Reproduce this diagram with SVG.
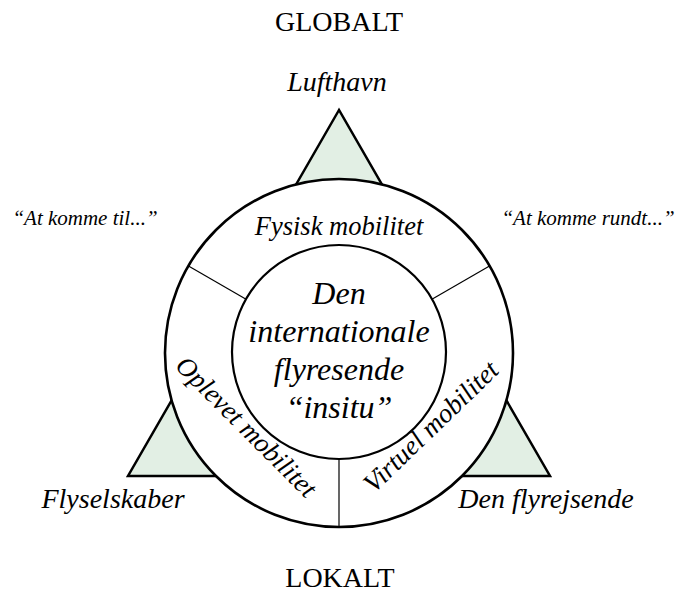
<svg xmlns="http://www.w3.org/2000/svg" width="676" height="599" viewBox="0 0 676 599">
<style>
.t{font-family:"Liberation Serif","Times New Roman",serif;fill:#000;text-anchor:middle}
.i{font-style:italic}
.div{stroke:#000;stroke-width:1.2;fill:none}
</style>
<rect width="676" height="599" fill="#fff"/>
<g id="triangle">
<polygon points="339,110 128,476 550,476" fill="#e2efe4" stroke="#000" stroke-width="2.5" stroke-linejoin="miter"/>
</g>
<g id="outer-ring">
<circle cx="339" cy="353" r="174" fill="#fff" stroke="#000" stroke-width="2.6"/>
</g>
<g id="connectors">
<line class="div" x1="246.5" y1="299.5" x2="188.5" y2="266"/>
<line class="div" x1="431.5" y1="299.5" x2="489.5" y2="266"/>
<line class="div" x1="339" y1="459" x2="339" y2="527"/>
</g>
<g id="inner-circle">
<circle cx="339" cy="352" r="107" fill="#fff" stroke="#000" stroke-width="2.2"/>
<text class="t i" font-size="32"><tspan x="339" y="304">Den</tspan><tspan x="339" y="342">internationale</tspan><tspan x="339" y="380">flyresende</tspan><tspan x="339" y="418">“insitu”</tspan></text>
</g>
<g id="fysisk">
<text class="t i" x="339" y="235" font-size="26.5">Fysisk mobilitet</text>
</g>
<g id="oplevet">
<text class="t i" font-size="27" transform="translate(240,433) rotate(45)" x="0" y="0">Oplevet mobilitet</text>
</g>
<g id="virtuel">
<text class="t i" font-size="27" transform="translate(437,433) rotate(-44)" x="0" y="0">Virtuel mobilitet</text>
</g>
<g id="globalt"><text class="t" x="339" y="31" font-size="28">GLOBALT</text></g>
<g id="lokalt"><text class="t" x="340" y="587" font-size="28">LOKALT</text></g>
<g id="lufthavn"><text class="t i" x="337" y="91" font-size="28">Lufthavn</text></g>
<g id="flyselskaber"><text class="t i" x="113" y="508" font-size="28">Flyselskaber</text></g>
<g id="den-flyrejsende"><text class="t i" x="546" y="508" font-size="28">Den flyrejsende</text></g>
<g id="at-komme-til"><text class="t i" x="85" y="225" font-size="21">“At komme til...”</text></g>
<g id="at-komme-rundt"><text class="t i" x="588" y="225" font-size="21">“At komme rundt...”</text></g>
</svg>
